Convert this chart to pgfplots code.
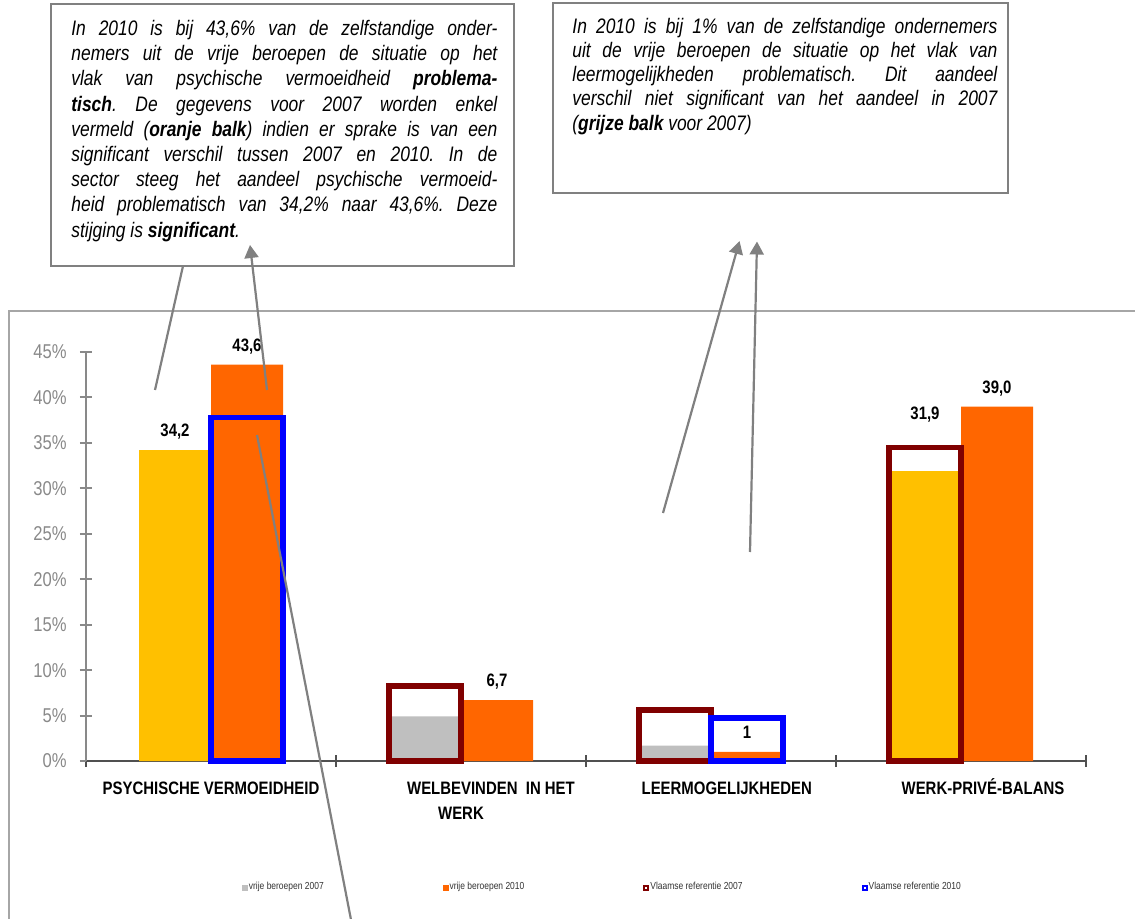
\documentclass[border=0pt]{standalone}
\usepackage{fontspec}
\setmainfont{Liberation Sans}[FakeStretch=0.83]
\usepackage{pgfplots}
\pgfplotsset{compat=1.18}
\usetikzlibrary{arrows.meta}
\definecolor{cyel}{RGB}{255,192,0}
\definecolor{cora}{RGB}{255,102,0}
\definecolor{cgry}{RGB}{191,191,191}
\definecolor{cred}{RGB}{128,0,0}
\definecolor{cblu}{RGB}{0,0,255}
\definecolor{cline}{RGB}{128,128,128}
\definecolor{cframe}{RGB}{166,166,166}
\definecolor{ctick}{RGB}{137,137,137}
\definecolor{cxax}{RGB}{80,80,80}
\begin{document}
\frenchspacing
\begin{tikzpicture}
\useasboundingbox (0,0) rectangle (567.5pt,-459.5pt);
\begin{scope}[x=0.5pt,y=-0.5pt]
  \draw[cframe, line width=0.7pt] (9,940) -- (9,311) -- (1150,311);
\end{scope}
\begin{axis}[
  at={(43pt,-380.5pt)}, anchor=south west,
  scale only axis, width=500pt, height=204.5pt,
  xmin=-0.5, xmax=3.5, ymin=0, ymax=45,
  clip=false,
  axis x line=bottom, axis y line=left,
  x axis line style={-, draw=cxax, line width=0.75pt},
  y axis line style={-, draw=ctick, line width=1.2pt},
  tick align=center, major tick length=6pt,
  ytick={0,5,...,45},
  yticklabel={\pgfmathprintnumber{\tick}\%},
  /pgf/number format/assume math mode=true,
  yticklabel style={font=\fontsize{10}{12}\selectfont, text=ctick, inner sep=0pt, anchor=east, xshift=-6.5pt},
  ytick style={draw=ctick, line width=1pt},
  xtick={-0.5,0.5,1.5,2.5,3.5},
  xticklabels={{},{},{},{},{}},
  xtick style={draw=cxax, line width=0.75pt},
  extra x ticks={0,1,2,3},
  extra x tick labels={{\strut PSYCHISCHE VERMOEIDHEID},{\strut\hspace*{30pt}WELBEVINDEN\ \ IN HET\\WERK},{\strut\hspace*{15.7pt}LEERMOGELIJKHEDEN},{\strut\hspace*{22pt}WERK-PRIVÉ-BALANS}},
  extra x tick style={major tick length=0pt, tick style={draw=none}},
  xticklabel style={font=\bfseries\fontsize{9}{12.3}\selectfont, align=center, anchor=north, inner sep=0pt, yshift=-7.9pt},
  legend columns=4,
  legend style={draw=none, fill=none, inner sep=0pt, at={(0.1557,-0.31)}, anchor=west,
    font=\fontsize{5.1}{6}\selectfont, text=black!80,
    nodes={inner sep=0.5pt},
    /tikz/every even column/.append style={column sep=59pt}},
]
\addplot[ybar, fill=cyel, draw=none, bar width=0.288, bar shift=-0.144, forget plot] coordinates {(0,34.2) (3,31.9)};
\addplot[ybar, fill=cgry, draw=none, bar width=0.288, bar shift=-0.144, forget plot] coordinates {(1,4.9) (2,1.7)};
\addplot[ybar, fill=cora, draw=none, bar width=0.288, bar shift=0.144, forget plot] coordinates {(0,43.6) (1,6.7) (2,1.0) (3,39.0)};
\addplot[ybar, fill=none, draw=cred, line width=2.75pt, bar width=0.288, bar shift=-0.144, forget plot] coordinates {(1,8.25) (2,5.6) (3,34.5)};
\addplot[ybar, fill=none, draw=cblu, line width=2.75pt, bar width=0.288, bar shift=0.144, forget plot] coordinates {(0,37.8) (2,4.75)};

\addlegendimage{legend image code/.code={\fill[cgry] (0pt,-1.25pt) rectangle (2.5pt,1.25pt);}}
\addlegendentry{vrije beroepen 2007}
\addlegendimage{legend image code/.code={\fill[cora] (0pt,-1.25pt) rectangle (2.5pt,1.25pt);}}
\addlegendentry{vrije beroepen 2010}
\addlegendimage{legend image code/.code={\draw[cred, line width=1pt, fill=white] (0.5pt,-1pt) rectangle (2.5pt,1pt);}}
\addlegendentry{Vlaamse referentie 2007}
\addlegendimage{legend image code/.code={\draw[cblu, line width=1pt, fill=white] (0.5pt,-1pt) rectangle (2.5pt,1pt);}}
\addlegendentry{Vlaamse referentie 2010}

\tikzset{dl/.style={font=\bfseries\fontsize{9}{10}\selectfont, anchor=base, inner sep=0pt, yshift=6.6pt}}
\node[dl] at (axis cs:-0.144,34.2) {34,2};
\node[dl] at (axis cs:0.144,43.6) {43,6};
\node[dl] at (axis cs:1.144,6.7) {6,7};
\node[dl] at (axis cs:2.144,1.0) {1};
\node[dl, yshift=7.5pt] at (axis cs:2.856,34.5) {31,9};
\node[dl] at (axis cs:3.144,39.0) {39,0};
\end{axis}
\begin{scope}[x=0.5pt,y=-0.5pt]
  \draw[cline, line width=1pt, fill=white] (51,4) rectangle (514,266);
  \draw[cline, line width=1pt, fill=white] (553,3.5) rectangle (1008,193);
  \node[anchor=north west, inner sep=0pt, text width=213pt, align=justify,
        font=\fontsize{10.5}{12.6}\selectfont\itshape] at (71,17.4)
  {\frenchspacing\tolerance=9999\hyphenpenalty=10000\strut In 2010 is bij 43,6\% van de zelfstandige onder-\linebreak
   nemers uit de vrije beroepen de situatie op het\linebreak
   vlak van psychische vermoeidheid \textbf{problema-}\linebreak
   \textbf{tisch}. De gegevens voor 2007 worden enkel\linebreak
   vermeld (\textbf{oranje balk}) indien er sprake is van een\linebreak
   significant verschil tussen 2007 en 2010. In de\linebreak
   sector steeg het aandeel psychische vermoeid-\linebreak
   heid problematisch van 34,2\% naar 43,6\%. Deze\linebreak
   stijging is \textbf{significant}.};
  \node[anchor=north west, inner sep=0pt, text width=212.5pt, align=justify,
        font=\fontsize{10.5}{12.1}\selectfont\itshape] at (572,16)
  {\frenchspacing\tolerance=9999\hyphenpenalty=10000\strut In 2010 is bij 1\% van de zelfstandige ondernemers\linebreak
   uit de vrije beroepen de situatie op het vlak van\linebreak
   leermogelijkheden problematisch. Dit aandeel\linebreak
   verschil niet significant van het aandeel in 2007\linebreak
   (\textbf{grijze balk} voor 2007)};
  \tikzset{arr/.style={cline, line width=1.1pt, -{Triangle[length=6.5pt,width=7pt]}}}
  \draw[cline, line width=1.1pt] (155,390) -- (183,266);
  \draw[arr] (267,390) -- (250,245);
  \draw[cline, line width=1.1pt] (257,435) -- (353,930);
  \draw[arr] (663,513) -- (739.5,241);
  \draw[arr] (750,552) -- (757,241.5);
\end{scope}
\end{tikzpicture}
\end{document}
